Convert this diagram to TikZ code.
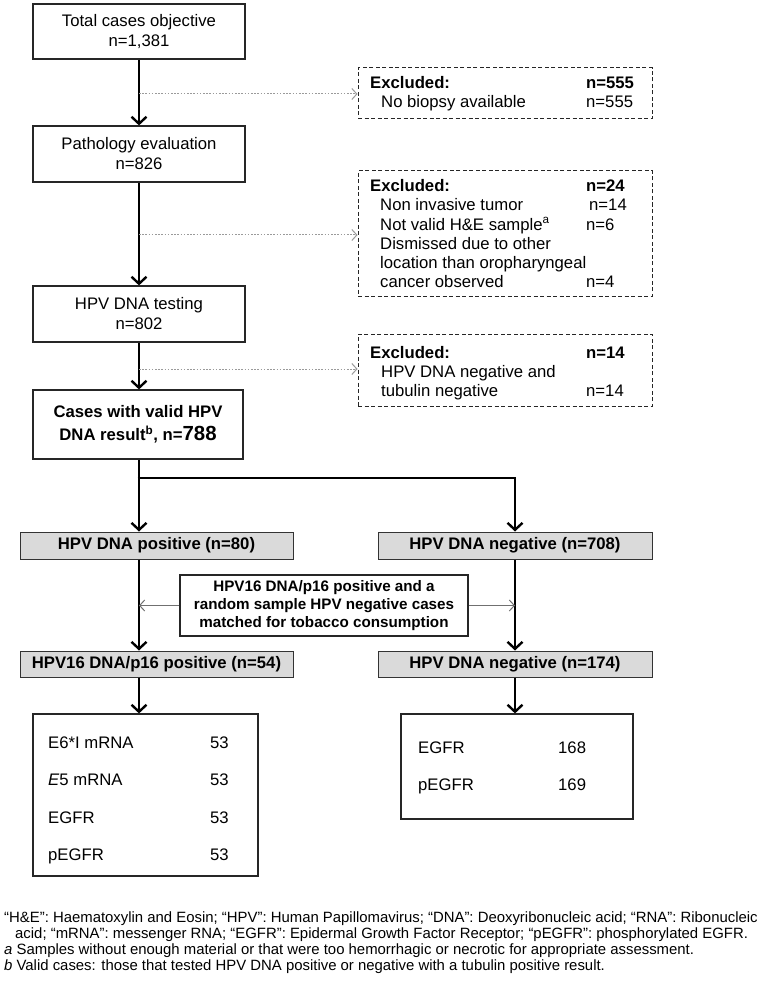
\documentclass[tikz,border=0pt]{standalone}
\usepackage{fontspec}
\setmainfont{Liberation Sans}
\usetikzlibrary{arrows.meta}
\definecolor{boxgray}{HTML}{DADADA}
\definecolor{dotgray}{HTML}{9A9A9A}
\definecolor{thingray}{HTML}{707070}
\begin{document}
\begin{tikzpicture}[x=1pt,y=-1pt,
  every node/.style={font=\fontsize{16.7}{20}\selectfont, inner sep=0pt},
  mainbox/.style={draw=black!85, line width=1.2pt, rectangle, align=center},
  exbox/.style={draw=black!85, line width=1pt, dash pattern=on 4pt off 2.5pt, rectangle},
  graybox/.style={draw=black!80, fill=boxgray, line width=1pt, rectangle, align=center, font=\fontsize{16.7}{20}\selectfont\bfseries},
  txt/.style={anchor=base west},
  btxt/.style={anchor=base west, font=\fontsize{16.7}{20}\selectfont\bfseries},
  foot/.style={anchor=base west, font=\fontsize{14.9}{16}\selectfont},
  mainarrow/.style={line width=2.8pt, -{Straight Barb[length=7pt,width=15pt,line width=2.4pt]}},
  dotarrow/.style={draw=dotgray, line width=1pt, dash pattern=on 1.6pt off 1.6pt, -{Straight Barb[length=5pt,width=11pt,line width=1pt]}},
  thinarrow/.style={draw=thingray, line width=1pt, -{Straight Barb[length=5pt,width=11pt,line width=1pt]}}
]
\useasboundingbox[fill=white] (0,0) rectangle (772,984);

% main column
\node[mainbox, minimum width=212pt, minimum height=55pt] (b1) at (139,31.5) {Total cases objective\\n=1,381};
\node[mainbox, minimum width=212pt, minimum height=56pt] (b2) at (139,154) {Pathology evaluation\\n=826};
\node[mainbox, minimum width=212pt, minimum height=56pt] (b3) at (139,314) {HPV DNA testing\\n=802};
\node[mainbox, minimum width=210pt, minimum height=69pt, font=\fontsize{16.7}{23}\selectfont\bfseries] (b4) at (138,424.5) {Cases with valid HPV\\DNA result\textsuperscript{b}, n={\fontsize{20.4}{23}\selectfont 788}};

% excluded boxes
\node[exbox, minimum width=294pt, minimum height=51pt] (ex1) at (505,93.5) {};
\node[btxt] (ex1a) at (370,89) {Excluded:};
\node[btxt] (ex1an) at (586,89) {n=555};
\node[txt] (ex1b) at (381,108) {No biopsy available};
\node[txt] (ex1bn) at (586,108) {n=555};

\node[exbox, minimum width=294pt, minimum height=125pt] (ex2) at (505,233.5) {};
\node[btxt] (ex2a) at (370,192) {Excluded:};
\node[btxt] (ex2an) at (586,192) {n=24};
\node[txt] (ex2b) at (380,211) {Non invasive tumor};
\node[txt] (ex2bn) at (589,211) {n=14};
\node[txt] (ex2c) at (380,230) {Not valid H\&E sample\textsuperscript{a}};
\node[txt] (ex2cn) at (586,230) {n=6};
\node[txt] (ex2d) at (380,249) {Dismissed due to other};
\node[txt] (ex2e) at (380,268) {location than oropharyngeal};
\node[txt] (ex2f) at (380,287) {cancer observed};
\node[txt] (ex2fn) at (586,287) {n=4};

\node[exbox, minimum width=294pt, minimum height=72pt] (ex3) at (505,370) {};
\node[btxt] (ex3a) at (370,358) {Excluded:};
\node[btxt] (ex3an) at (586,358) {n=14};
\node[txt] (ex3b) at (381,377) {HPV DNA negative and};
\node[txt] (ex3c) at (381,396) {tubulin negative};
\node[txt] (ex3cn) at (586,396) {n=14};

% arrows main column
\draw[mainarrow] (b1.south) -- (b2.north);
\draw[mainarrow] (b2.south) -- (b3.north);
\draw[mainarrow] (b3.south) -- (b3.south |- b4.north);
\coordinate (d1) at (139,94);
\coordinate (d2) at (139,235);
\coordinate (d3) at (139,369);
\draw[dotarrow] (d1) -- (d1 -| ex1.west);
\draw[dotarrow] (d2) -- (d2 -| ex2.west);
\draw[dotarrow] (d3) -- (d3 -| ex3.west);

% split
\node[graybox, minimum width=273pt, minimum height=27pt] (pos) at (156.5,545.5) {HPV DNA positive (n=80)};
\node[graybox, minimum width=274pt, minimum height=27pt] (neg) at (515,545.5) {HPV DNA negative (n=708)};
\coordinate (split) at (139,478);
\coordinate (splitR) at (515,478);
\draw[line width=2.8pt] (split |- b4.south) -- (split);
\draw[mainarrow] (split) -- (split |- pos.north);
\draw[mainarrow, line join=miter] ([xshift=-1.4pt]split) -- (splitR) -- (splitR |- neg.north);

% middle box
\node[mainbox, minimum width=288pt, minimum height=61pt, line width=1.1pt, font=\fontsize{15.2}{18}\selectfont\bfseries] (mid) at (324,605.5) {HPV16 DNA/p16 positive and a\\random sample HPV negative cases\\matched for tobacco consumption};

\node[graybox, minimum width=273pt, minimum height=26pt] (p16) at (156.5,664) {HPV16 DNA/p16 positive (n=54)};
\node[graybox, minimum width=274pt, minimum height=26pt] (neg2) at (515,664) {HPV DNA negative (n=174)};

\draw[mainarrow] (pos.south -| split) -- (p16.north -| split);
\draw[mainarrow] (neg.south -| splitR) -- (neg2.north -| splitR);
\draw[thinarrow] (mid.west) -- (mid.west -| split);
\draw[thinarrow] (mid.east) -- (mid.east -| splitR);

% data boxes
\node[mainbox, minimum width=225pt, minimum height=162pt] (dl) at (145.5,795) {};
\node[mainbox, minimum width=232pt, minimum height=105pt] (dr) at (517,766.5) {};
\draw[mainarrow] (p16.south -| split) -- (dl.north -| split);
\draw[mainarrow] (neg2.south -| splitR) -- (dr.north -| splitR);

\node[txt] (l1) at (48,748) {E6*I mRNA};
\node[txt] (l1n) at (210,748) {53};
\node[txt] (l2) at (48,785) {\textit{E}5 mRNA};
\node[txt] (l2n) at (210,785) {53};
\node[txt] (l3) at (48,823) {EGFR};
\node[txt] (l3n) at (210,823) {53};
\node[txt] (l4) at (48,860) {pEGFR};
\node[txt] (l4n) at (210,860) {53};

\node[txt] (r1) at (418,753) {EGFR};
\node[txt] (r1n) at (558,753) {168};
\node[txt] (r2) at (418,790) {pEGFR};
\node[txt] (r2n) at (558,790) {169};

% footer
\node[foot] (f1) at (4,922) {“H\&E”: Haematoxylin and Eosin; “HPV”: Human Papillomavirus; “DNA”: Deoxyribonucleic acid; “RNA”: Ribonucleic};
\node[foot] (f2) at (15,938) {acid; “mRNA”: messenger RNA; “EGFR”: Epidermal Growth Factor Receptor; “pEGFR”: phosphorylated EGFR.};
\node[foot] (f3) at (4,954) {\textit{a} Samples without enough material or that were too hemorrhagic or necrotic for appropriate assessment.};
\node[foot] (f4) at (4,970) {\textit{b} Valid cases: those that tested HPV DNA positive or negative with a tubulin positive result.};
\end{tikzpicture}
\end{document}
